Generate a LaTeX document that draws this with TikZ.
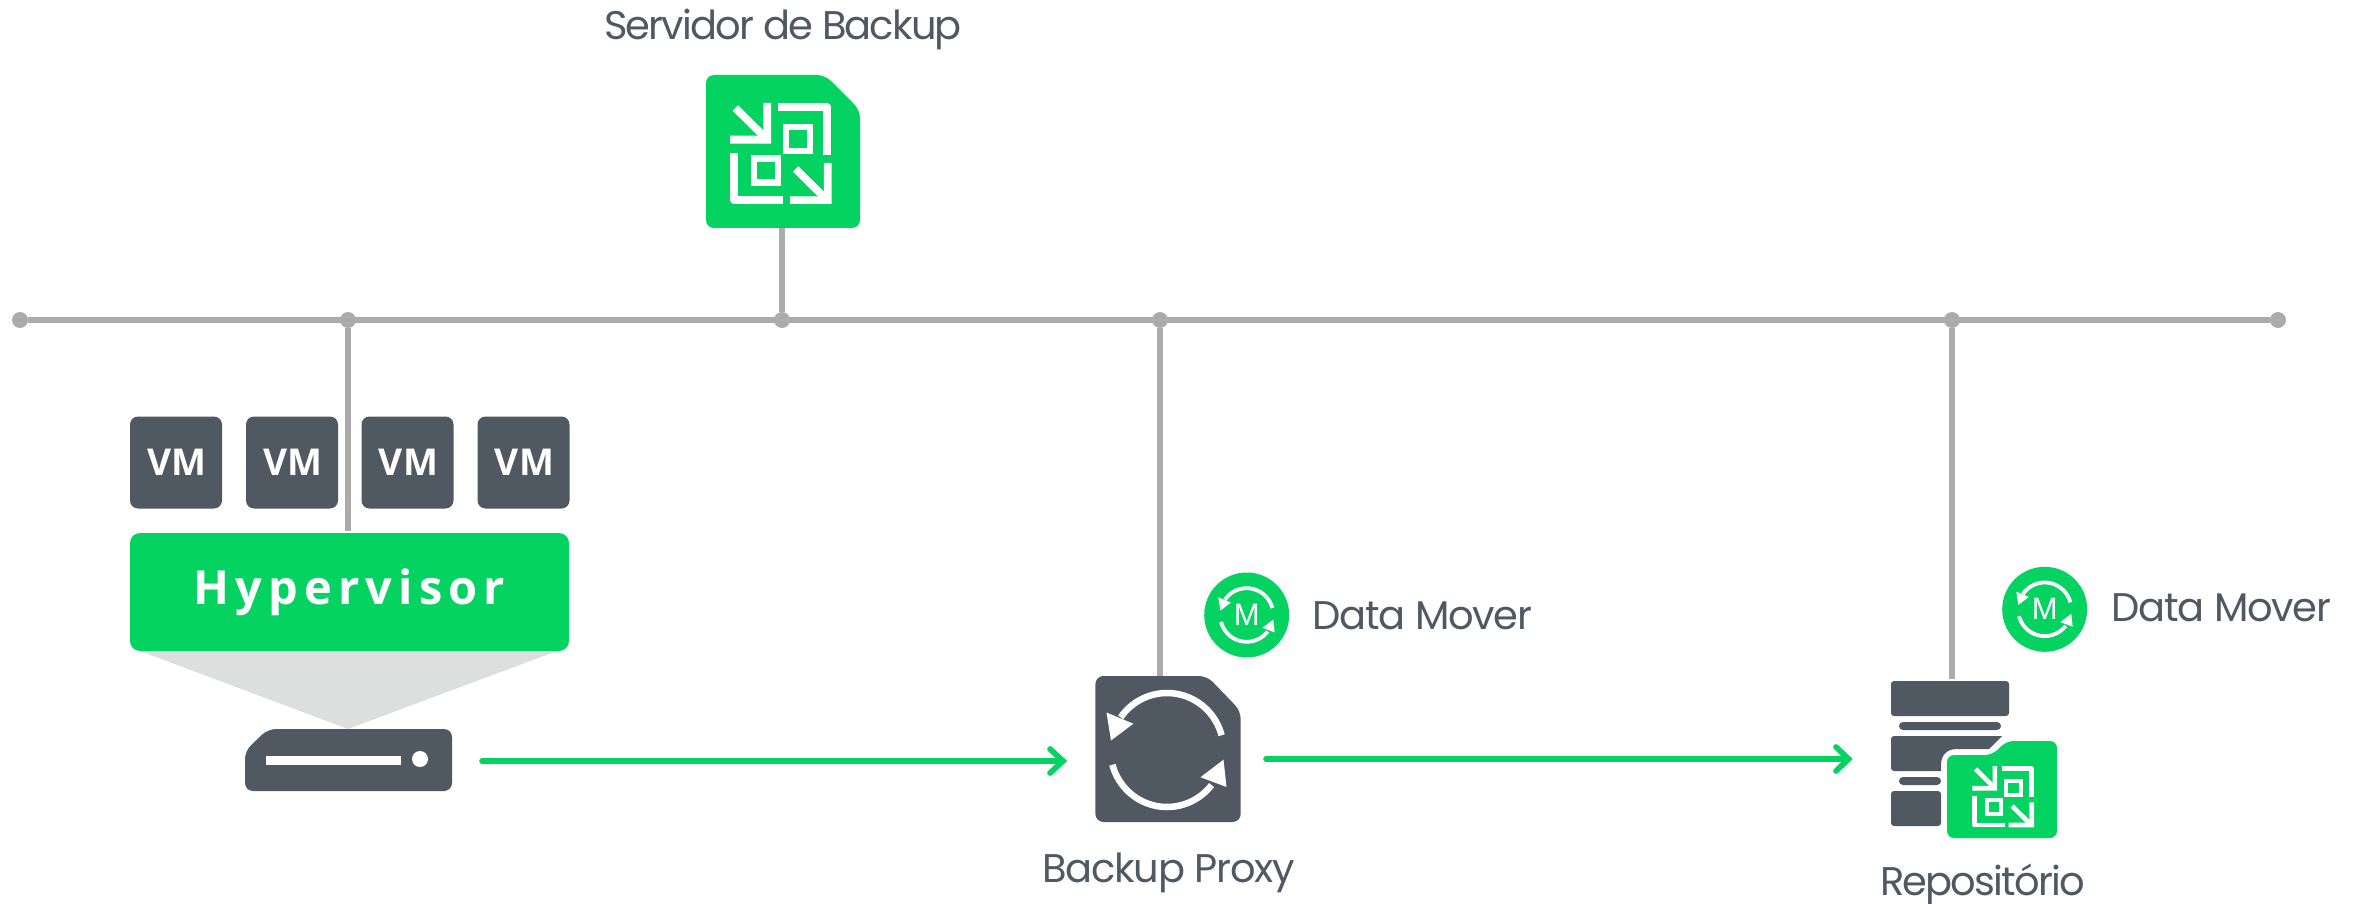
\documentclass[tikz,border=0pt]{standalone}
\usepackage{fontspec}
\setmainfont{Poppins}
\newfontfamily\oskind[LetterSpace=2]{Open Sans}
\newfontfamily\hypkind[LetterSpace=13]{Open Sans}
\newfontfamily\mkind{Liberation Sans}
\definecolor{vgreen}{HTML}{04D361}
\definecolor{ink}{HTML}{505962}
\definecolor{busgrey}{HTML}{ABABAD}
\definecolor{hypshade}{HTML}{DDDFDE}
\newcommand\lblfont{\fontsize{40}{46}\selectfont}
\newcommand\tight[1]{\addfontfeature{LetterSpace=#1}}
\newcommand\vmtext{\hspace*{2pt}\raisebox{-2.5pt}{VM}}
\tikzset{
  lbl/.style={font=\lblfont,text=ink,anchor=base west,inner sep=0pt},
  bus/.style={draw=busgrey,line width=5.7pt},
  busdot/.style={circle,fill=busgrey,minimum size=16pt,inner sep=0pt},
  vmbox/.style={fill=ink,rounded corners=8pt,minimum width=92pt,minimum height=92pt,inner sep=0pt,
    text=white,font=\oskind\bfseries\fontsize{37}{40}\selectfont},
  hyperbox/.style={fill=vgreen,rounded corners=10pt,minimum width=439pt,minimum height=118pt,inner sep=0pt,
    text=white,font=\hypkind\bfseries\fontsize{47}{52}\selectfont},
  ghost/.style={inner sep=0pt,draw=none,fill=none},
  flow/.style={draw=vgreen,line width=5.7pt,line cap=round,line join=miter,miter limit=10},
  mover/.style={circle,fill=vgreen,minimum size=85pt,inner sep=0pt,text=white,font=\mkind\fontsize{31}{36}\selectfont},
}
\newcommand\vglyph[3]{%
  \begin{scope}[shift={(#1,#2)},scale=#3]
    \fill[white] (100,0) -- (123,0) -- (123,122) -- (0,122) -- (0,98) -- (100,98) -- cycle;
    \draw[white,line width=#3*23pt] (16,15) -- (105,103);
    \draw[white,line width=#3*23pt,line join=round] (145,12) -- (292,12) -- (292,155);
    \draw[white,line width=#3*20pt] (168,72) rectangle (240,144);
    \draw[white,line width=#3*23pt,line join=round] (12,150) -- (12,292) -- (160,292);
    \draw[white,line width=#3*20pt] (72,166) rectangle (144,238);
    \fill[white] (282,180) -- (305,180) -- (305,303) -- (180,303) -- (180,280) -- (282,280) -- cycle;
    \draw[white,line width=#3*23pt] (197,198) -- (287,287);
  \end{scope}}
% centre x, centre y, scale, stroke width
\newcommand\syncarrows[4]{%
  \begin{scope}[shift={(#1,#2)},scale=#3]
    \draw[white,line width=#4pt] plot[domain=15:145,samples=40] ({56.5*cos(\x)},{-57*sin(\x)});
    \draw[white,line width=#4pt] plot[domain=195:322,samples=40] ({56.5*cos(\x)},{-57*sin(\x)});
    \fill[white] (-60.5,-37.5) -- (-33.7,-26.3) -- (-56,-9.5) -- cycle;
    \fill[white] (56.5,9.7) -- (33.5,27.2) -- (59.5,37) -- cycle;
  \end{scope}}
\begin{document}
\begin{tikzpicture}[x=1pt,y=-1pt]
\useasboundingbox (0,0) rectangle (2359,904);

% bus
\node[busdot] (b0) at (20,320) {};
\node[busdot] (b1) at (348,320) {};
\node[busdot] (b2) at (782,320) {};
\node[busdot] (b3) at (1160,320) {};
\node[busdot] (b4) at (1952,320) {};
\node[busdot] (b5) at (2278,320) {};
\draw[bus] (b0) -- (b5);

% server icon
\node[ghost,minimum width=154pt,minimum height=153pt] (server) at (783,151.5) {};
\fill[vgreen,rounded corners=8pt] (706,75) -- (825,75) -- (860,110) -- (860,228) -- (706,228) -- cycle;
\vglyph{730}{103}{0.3333}
\node[lbl] (serverlabel) at (604,39.5) {\tight{-4.6}Servidor de Backup};
\draw[bus] (b2) -- (b2 |- server.south);

% hypervisor
\fill[hypshade] (140,651) -- (557,651) -- (348,729) -- cycle;
\node[vmbox] (vm1) at (176,462.5) {\vmtext};
\node[vmbox] (vm2) at (292,462.5) {\vmtext};
\node[vmbox] (vm3) at (407.5,462.5) {\vmtext};
\node[vmbox] (vm4) at (523.5,462.5) {\vmtext};
\node[hyperbox] (hyper) at (349.5,592) {\raisebox{-7pt}{Hypervisor}};
\draw[bus,shorten >=2pt] (b1) -- (b1 |- hyper.north);

% host
\node[ghost,minimum width=207pt,minimum height=62pt] (host) at (348.5,760) {};
\fill[ink,rounded corners=8pt] (268,729) -- (452,729) -- (452,791) -- (245,791) -- (245,751) -- cycle;
\fill[white] (266,756) rectangle (401,765);
\fill[white] (420,759) circle (8);

% proxy
\node[ghost,minimum width=145pt,minimum height=146pt] (proxy) at (1168,749) {};
\draw[bus] (b3) -- (b3 |- proxy.north);
\fill[ink,rounded corners=8pt] (1095.4,676) -- (1207,676) -- (1240.7,711) -- (1240.7,822) -- (1095.4,822) -- cycle;
\syncarrows{1167}{750}{1}{6.5}
\node[lbl] (proxylabel) at (1042.5,882.5) {\tight{-3.3}Backup Proxy};

% data mover 1
\node[mover] (dm1) at (1246.7,615) {M};
\syncarrows{1246.7}{615}{0.47}{3.8}
\node[lbl] (dm1label) at (1312.5,629.5) {\tight{-3.3}Data Mover};

% repository
\node[ghost,minimum width=118pt,minimum height=145pt] (repo) at (1950,753.5) {};
\draw[bus,shorten >=2pt] (b4) -- (b4 |- repo.north);
\fill[ink,rounded corners=3pt] (1891,681) rectangle (2009,716);
\fill[ink,rounded corners=4pt] (1899,722) rectangle (2001,730);
\fill[ink] [rounded corners=3pt] (1891,760) -- (1891,736) -- (1900,736) [sharp corners] -- (2002,736) -- (1989,749) -- (1957,749)
  .. controls (1947,749) and (1941,755) .. (1941,765) -- (1941,771) -- (1900,771) [rounded corners=3pt] -- (1891,771) -- (1891,760) -- cycle;
\fill[ink,rounded corners=4pt] (1899,777) -- (1941,777) -- (1941,785) -- (1899,785) -- cycle;
\fill[ink,rounded corners=3pt] (1891,791) -- (1941,791) -- (1941,826) -- (1891,826) -- cycle;
\fill[vgreen,rounded corners=7pt] (1947,755) -- (1992,755) -- (2006.7,741) -- (2057,741) -- (2057,838) -- (1947,838) -- cycle;
\vglyph{1972.3}{766}{0.2023}
\node[lbl] (repolabel) at (1880,895.5) {\tight{-4.6}Repositório};

% data mover 2
\node[mover] (dm2) at (2044.7,609.3) {M};
\syncarrows{2044.7}{609.3}{0.47}{3.8}
\node[lbl] (dm2label) at (2111.5,621.5) {\tight{-3.3}Data Mover};

% flows
\coordinate (f1s) at (482,761);
\coordinate (f1e) at (1063,761);
\coordinate (f1a) at (1050,749);
\coordinate (f1b) at (1050,773);
\draw[flow] (f1s) -- (f1e);
\draw[flow] (f1a) -- (f1e) -- (f1b);
\coordinate (f2s) at (1266,759);
\coordinate (f2e) at (1848.5,759);
\coordinate (f2a) at (1836,747);
\coordinate (f2b) at (1836,771);
\draw[flow] (f2s) -- (f2e);
\draw[flow] (f2a) -- (f2e) -- (f2b);
\end{tikzpicture}
\end{document}
